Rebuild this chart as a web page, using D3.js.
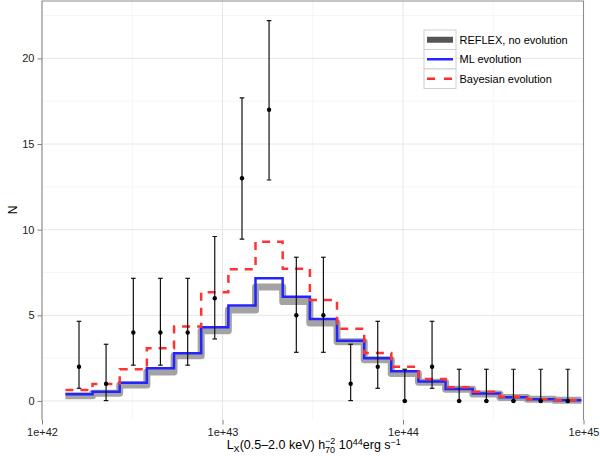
<!DOCTYPE html>
<html>
<head>
<meta charset="utf-8">
<script src="https://cdn.jsdelivr.net/npm/d3@7"></script>
<style>
  body { margin: 0; background: #fff; }
  text { font-family: "Liberation Sans", Arial, sans-serif; }
</style>
</head>
<body>
<div id="chart"></div>
<script>
// bin centres, log10 L
var logL = [42.205, 42.355, 42.506, 42.656, 42.807, 42.957, 43.108, 43.258, 43.409, 43.559,
            43.710, 43.860, 44.010, 44.161, 44.311, 44.462, 44.612, 44.763, 44.913];
var binHalf = 0.0752;

// observed counts with error bars
var nObs  = [2, 1, 4, 4, 4, 6, 13, 17, 5, 5, 1, 2, 0, 2, 0, 0, 0, 0, 0];
var errLo = [0.74, 0.02, 2.09, 2.09, 2.09, 3.62, 9.45, 12.9, 2.84, 2.84, 0.02, 0.74, 0, 0.74, 0, 0, 0, 0, 0];
var errHi = [4.65, 3.31, 7.16, 7.16, 7.16, 9.6, 17.7, 22.2, 8.39, 8.39, 3.31, 4.65, 1.85, 4.65, 1.85, 1.85, 1.85, 1.85, 1.85];

// model predictions
var reflex = [0.31, 0.45, 0.93, 1.69, 2.64, 4.1, 5.31, 6.65, 5.8, 4.55, 3.46, 2.41, 1.6, 1.09, 0.68, 0.40, 0.2, 0.1, 0.04];
var ml     = [0.39, 0.54, 1.07, 1.91, 2.78, 4.30, 5.58, 7.16, 6.09, 4.79, 3.52, 2.49, 1.73, 1.13, 0.70, 0.43, 0.22, 0.10, 0.04];
var bayes  = [0.64, 0.99, 1.85, 3.08, 4.34, 6.35, 7.69, 9.3, 7.72, 5.9, 4.22, 2.8, 2.0, 1.28, 0.8, 0.54, 0.25, 0.1, 0.05];

var xTicks = [1e42, 1e43, 1e44, 1e45];
var xTickLabels = ["1e+42", "1e+43", "1e+44", "1e+45"];
var yTicks = [0, 5, 10, 15, 20];

var legendLabels = ["REFLEX, no evolution", "ML evolution", "Bayesian evolution"];

var w = 600, h = 461;
var marges = {left: 42, right: 16.5, top: 1, bottom: 41};
var graf_w = w - marges.left - marges.right;
var graf_h = h - marges.top - marges.bottom;

var svg = d3.select("#chart")
  .append("svg")
    .attr("width", w)
    .attr("height", h)
  .append("g")
    .attr("transform", "translate(" + marges.left + "," + marges.top + ")");

var x = d3.scaleLog()
  .domain([1e42, 1e45])
  .range([0, graf_w]);

var y = d3.scaleLinear()
  .domain([-1.112, 23.35])
  .range([graf_h, 0]);

// <-- GRID -------------
var minorY = d3.range(-2.5, 25, 5);
svg.append("g").selectAll("line")
  .data(minorY.filter(function(d) { return d > -1.1 && d < 23.3; }))
  .enter().append("line")
    .attr("x1", 0).attr("x2", graf_w)
    .attr("y1", function(d) { return y(d); })
    .attr("y2", function(d) { return y(d); })
    .attr("stroke", "#f5f5f5").attr("stroke-width", 1);
svg.append("g").selectAll("line")
  .data([Math.pow(10, 42.5), Math.pow(10, 43.5), Math.pow(10, 44.5)])
  .enter().append("line")
    .attr("x1", function(d) { return x(d); })
    .attr("x2", function(d) { return x(d); })
    .attr("y1", 0).attr("y2", graf_h)
    .attr("stroke", "#f5f5f5").attr("stroke-width", 1);
svg.append("g").selectAll("line")
  .data(yTicks)
  .enter().append("line")
    .attr("x1", 0).attr("x2", graf_w)
    .attr("y1", function(d) { return y(d); })
    .attr("y2", function(d) { return y(d); })
    .attr("stroke", "#e6e6e6").attr("stroke-width", 1);
svg.append("g").selectAll("line")
  .data(xTicks)
  .enter().append("line")
    .attr("x1", function(d) { return x(d); })
    .attr("x2", function(d) { return x(d); })
    .attr("y1", 0).attr("y2", graf_h)
    .attr("stroke", "#e6e6e6").attr("stroke-width", 1);
// -- GRID ------------->

svg.append("clipPath").attr("id", "panel")
  .append("rect").attr("x", 0).attr("y", 0).attr("width", graf_w).attr("height", graf_h);

// step line points from bin centres
function steps(vals) {
  var pts = [];
  vals.forEach(function(v, i) {
    pts.push([Math.pow(10, logL[i] - binHalf), v]);
    pts.push([Math.pow(10, logL[i] + binHalf), v]);
  });
  return pts;
}
var line = d3.line()
  .x(function(d) { return x(d[0]); })
  .y(function(d) { return y(d[1]); });

var plot = svg.append("g").attr("clip-path", "url(#panel)");

plot.append("path")
  .attr("d", line(steps(reflex)))
  .attr("fill", "none")
  .attr("stroke", "#a3a3a3")
  .attr("stroke-width", 7)
  .attr("stroke-linejoin", "round");

plot.append("path")
  .attr("d", line(steps(ml)))
  .attr("fill", "none")
  .attr("stroke", "#2424ff")
  .attr("stroke-width", 2.5);

plot.append("path")
  .attr("d", line(steps(bayes)))
  .attr("fill", "none")
  .attr("stroke", "#ff3333")
  .attr("stroke-width", 2.5)
  .attr("stroke-dasharray", "8,7");

// error bars + points
var bars = plot.append("g").selectAll("g")
  .data(nObs)
  .enter().append("g");
bars.append("line")
  .attr("x1", function(d, i) { return x(Math.pow(10, logL[i])); })
  .attr("x2", function(d, i) { return x(Math.pow(10, logL[i])); })
  .attr("y1", function(d, i) { return y(errLo[i]); })
  .attr("y2", function(d, i) { return y(errHi[i]); })
  .attr("stroke", "#111").attr("stroke-width", 1.2);
bars.append("line")
  .attr("x1", function(d, i) { return x(Math.pow(10, logL[i])) - 2.3; })
  .attr("x2", function(d, i) { return x(Math.pow(10, logL[i])) + 2.3; })
  .attr("y1", function(d, i) { return y(errHi[i]); })
  .attr("y2", function(d, i) { return y(errHi[i]); })
  .attr("stroke", "#111").attr("stroke-width", 1.2);
bars.append("line")
  .attr("x1", function(d, i) { return x(Math.pow(10, logL[i])) - 2.3; })
  .attr("x2", function(d, i) { return x(Math.pow(10, logL[i])) + 2.3; })
  .attr("y1", function(d, i) { return y(errLo[i]); })
  .attr("y2", function(d, i) { return y(errLo[i]); })
  .attr("stroke", "#111").attr("stroke-width", 1.2);
bars.append("circle")
  .attr("cx", function(d, i) { return x(Math.pow(10, logL[i])); })
  .attr("cy", function(d) { return y(d); })
  .attr("r", 2.2)
  .attr("fill", "#000");

// panel border (top, left, right)
svg.append("path")
  .attr("d", "M0," + graf_h + "V0H" + graf_w + "V" + graf_h)
  .attr("fill", "none")
  .attr("stroke", "#8c8c8c")
  .attr("stroke-width", 1.1);

// <-- X AXIS -------------
var xAxis = svg.append("g")
  .attr("transform", "translate(0," + graf_h + ")")
  .call(d3.axisBottom(x).tickValues(xTicks)
    .tickFormat(function(d, i) { return xTickLabels[i]; })
    .tickSize(4.5).tickPadding(3.5));
xAxis.select(".domain").remove();
xAxis.selectAll("line").attr("stroke", "#7f7f7f");
xAxis.selectAll("text").attr("font-size", "11px").attr("fill", "#222")
  .attr("font-family", "'Liberation Sans', Arial, sans-serif");
// -- X AXIS ------------->

// <-- Y AXIS -------------
var yAxis = svg.append("g")
  .call(d3.axisLeft(y).tickValues(yTicks).tickSize(4.5).tickPadding(3));
yAxis.select(".domain").remove();
yAxis.selectAll("line").attr("stroke", "#7f7f7f");
yAxis.selectAll("text").attr("font-size", "11px").attr("fill", "#222")
  .attr("font-family", "'Liberation Sans', Arial, sans-serif");
// -- Y AXIS ------------->

// axis titles
svg.append("text")
  .attr("transform", "translate(-25.5,209) rotate(-90)")
  .attr("text-anchor", "middle")
  .attr("font-size", "12px")
  .attr("fill", "#000")
  .text("N");

var xt = svg.append("text")
  .attr("x", graf_w / 2 + 1)
  .attr("y", graf_h + 28.5)
  .attr("text-anchor", "middle")
  .attr("font-size", "12.5px")
  .attr("fill", "#000");
xt.append("tspan").text("L");
xt.append("tspan").attr("font-size", "9px").attr("dy", 3).text("X");
xt.append("tspan").attr("dy", -3).text("(0.5\u20132.0 keV) h");
xt.append("tspan").attr("font-size", "9px").attr("dy", 4).text("70");
xt.append("tspan").attr("font-size", "9px").attr("dx", -10).attr("dy", -8.5).text("\u22122");
xt.append("tspan").attr("dy", 4.5).text(" 10");
xt.append("tspan").attr("font-size", "9px").attr("dy", -4).text("44");
xt.append("tspan").attr("dy", 4).text("erg s");
xt.append("tspan").attr("font-size", "9px").attr("dy", -4).text("\u22121");

// <-- LEGEND -------------
var lx = 382, ly = 29, keyW = 32, keyH = 19.5;
legendLabels.forEach(function(d, i) {
  var ky = ly + i * keyH;
  svg.append("rect")
    .attr("x", lx).attr("y", ky)
    .attr("width", keyW).attr("height", keyH)
    .attr("fill", "#fff").attr("stroke", "#d0d0d0").attr("stroke-width", 1);
  var k = svg.append("line")
    .attr("x1", lx + 3).attr("x2", lx + keyW - 3)
    .attr("y1", ky + keyH / 2).attr("y2", ky + keyH / 2);
  if (i == 0) {
    k.attr("stroke", "#555").attr("stroke-width", 6);
  } else if (i == 1) {
    k.attr("stroke", "#2424ff").attr("stroke-width", 2.5);
  } else {
    k.attr("stroke", "#ff2a2a").attr("stroke-width", 2.5).attr("stroke-dasharray", "8,9");
  }
  svg.append("text")
    .attr("x", lx + keyW + 3.5)
    .attr("y", ky + keyH / 2 + 4)
    .attr("font-size", "11px")
    .attr("fill", "#000")
    .text(d);
});
// -- LEGEND ------------->
</script>
</body>
</html>
